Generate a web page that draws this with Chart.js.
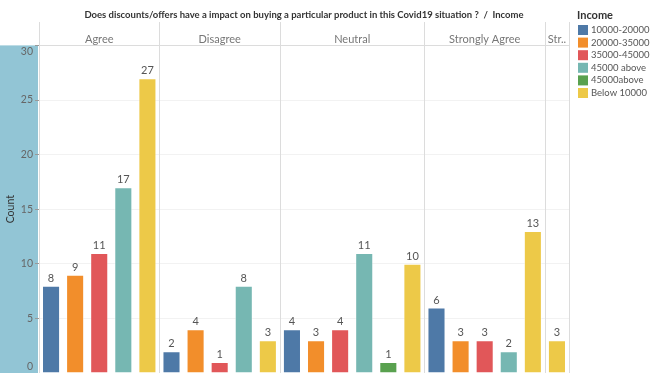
<!DOCTYPE html>
<html>
<head>
<meta charset="utf-8">
<script src="https://cdn.jsdelivr.net/npm/chart.js@4.4.1/dist/chart.umd.min.js"></script>
<style>
  html, body { margin: 0; padding: 0; background: #fff; }
  #wrap { width: 650px; height: 373px; position: relative; }
</style>
</head>
<body>
<div id="wrap"><canvas id="chart"></canvas></div>
<script>
const sentiments = ['Agree', 'Disagree', 'Neutral', 'Strongly Agree', 'Strongly Disagree'];
const facetLabels = ['Agree', 'Disagree', 'Neutral', 'Strongly Agree', 'Str..'];
const incomes = ['10000-20000', '20000-35000', '35000-45000', '45000 above', '45000above', 'Below 10000'];
const incomeColors = ['#4e79a7', '#f28e2b', '#e15759', '#76b7b2', '#59a14f', '#edc948'];

// counts per income group, one value per sentiment (null = no bar)
const income10to20 = [8, 2, 4, 6, null];
const income20to35 = [9, 4, 3, 3, null];
const income35to45 = [11, 1, 4, 3, null];
const income45above = [17, 8, 11, 2, null];
const income45aboveNoSpace = [null, null, 1, null, null];
const incomeBelow10 = [27, 3, 10, 13, 3];

const yTicks = [0, 5, 10, 15, 20, 25, 30];

const FONT = "Lato, sans-serif";
Chart.defaults.font.family = FONT;

// flatten into one bar per (sentiment, income) pair that has a value
const seriesByIncome = [income10to20, income20to35, income35to45, income45above, income45aboveNoSpace, incomeBelow10];
const labels = [];
const values = [];
const colors = [];
const facetOf = [];
sentiments.forEach((s, si) => {
  incomes.forEach((inc, ii) => {
    const v = seriesByIncome[ii][si];
    if (v === null) return;
    labels.push(s + ' / ' + inc);
    values.push(v);
    colors.push(incomeColors[ii]);
    facetOf.push(si);
  });
});

const facetPlugin = {
  id: 'facets',
  beforeDraw(chart) {
    const { ctx, chartArea: a } = chart;
    ctx.save();
    ctx.fillStyle = '#92c5d5';
    ctx.fillRect(0, a.top, a.left - 1, a.bottom - a.top);
    ctx.restore();
  },
  beforeDatasetsDraw(chart) {
    const { ctx, chartArea: a, scales } = chart;
    const x = scales.x;
    ctx.save();
    ctx.strokeStyle = '#dcdcdc';
    ctx.lineWidth = 1;
    // facet boundaries
    const edges = [x.left];
    for (let i = 0; i < facetOf.length - 1; i++) {
      if (facetOf[i] !== facetOf[i + 1]) {
        edges.push((x.getPixelForValue(i) + x.getPixelForValue(i + 1)) / 2);
      }
    }
    edges.push(x.right);
    edges.forEach(e => {
      const px = Math.round(e) + 0.5;
      ctx.beginPath();
      ctx.moveTo(px, 22);
      ctx.lineTo(px, a.bottom);
      ctx.stroke();
    });
    // header labels
    ctx.fillStyle = '#777';
    ctx.font = '11px ' + FONT;
    ctx.textAlign = 'center';
    ctx.textBaseline = 'middle';
    const used = [...new Set(facetOf)];
    used.forEach((f, k) => {
      ctx.fillText(facetLabels[f], (edges[k] + edges[k + 1]) / 2, a.top - 6);
    });
    // y tick labels, kept inside the plot band
    const y = scales.y;
    ctx.fillStyle = '#666';
    ctx.font = '10.5px ' + FONT;
    ctx.textAlign = 'right';
    yTicks.forEach(t => {
      let py = y.getPixelForValue(t);
      py = Math.min(Math.max(py, a.top + 6), a.bottom - 6);
      ctx.fillText(String(t), a.left - 6, py);
    });
    ctx.restore();
  },
  afterDatasetsDraw(chart) {
    const { ctx } = chart;
    const meta = chart.getDatasetMeta(0);
    ctx.save();
    ctx.fillStyle = '#555';
    ctx.font = '11px ' + FONT;
    ctx.textAlign = 'center';
    ctx.textBaseline = 'bottom';
    meta.data.forEach((bar, i) => {
      ctx.fillText(String(values[i]), bar.x, bar.y - 2);
    });
    ctx.restore();
  },
  afterDraw(chart) {
    const { ctx, chartArea: a } = chart;
    const lx = a.right + 9;
    ctx.save();
    ctx.textBaseline = 'middle';
    ctx.textAlign = 'left';
    ctx.fillStyle = '#333';
    ctx.font = 'bold 11px ' + FONT;
    ctx.fillText('Income', lx - 1, 15);
    ctx.font = '9.5px ' + FONT;
    incomes.forEach((inc, i) => {
      const cy = 30 + i * 12.6;
      ctx.fillStyle = incomeColors[i];
      ctx.fillRect(lx, cy - 5, 10, 10);
      ctx.fillStyle = '#555';
      ctx.fillText(inc, lx + 13, cy);
    });
    ctx.restore();
  }
};

new Chart(document.getElementById('chart'), {
  type: 'bar',
  data: {
    labels,
    datasets: [{
      data: values,
      backgroundColor: colors,
      borderColor: 'rgba(255,255,255,0.45)',
      borderWidth: 1,
      categoryPercentage: 1,
      barPercentage: 0.75
    }]
  },
  options: {
    responsive: true,
    maintainAspectRatio: false,
    animation: false,
    layout: { padding: { left: 0, right: 81, top: 0, bottom: 0 } },
    plugins: {
      legend: { display: false },
      tooltip: { enabled: false },
      title: {
        display: true,
        fullSize: false,
        text: 'Does discounts/offers have a impact on buying a particular product in this Covid19 situation ?  /  Income',
        color: '#333',
        font: { size: 9.5, weight: 'bold' },
        padding: { top: 9, bottom: 25 }
      }
    },
    scales: {
      x: { display: false },
      y: {
        min: 0,
        max: 30,
        ticks: { display: false, stepSize: 5 },
        grid: {
          color: c => (c.tick && c.tick.value === 30 ? '#dcdcdc' : '#f2f2f2'),
          tickLength: 4,
          tickColor: '#999'
        },
        border: { display: false },
        title: { display: true, text: 'Count', color: '#333', font: { size: 10.5 }, padding: 4 },
        afterFit(scale) { scale.width = 39; }
      }
    }
  },
  plugins: [facetPlugin]
});
</script>
</body>
</html>
